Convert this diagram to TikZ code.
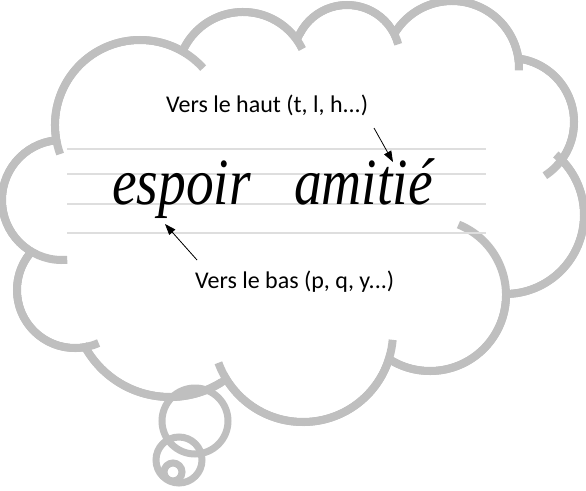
\documentclass[tikz,border=0pt]{standalone}
\usepackage{fontspec}
\usepackage{graphicx}
\usepackage{xcolor}
\usepackage{tikz}
\usetikzlibrary{arrows.meta}
\setmainfont{Liberation Serif}
\newfontfamily\notefont{Carlito}
\definecolor{cloudgray}{HTML}{BFBFBF}
\definecolor{rulegray}{HTML}{DEDEDE}

\begin{document}
\begin{tikzpicture}[
    x=1pt, y=-1pt,
    lobering/.style={draw=cloudgray, line width=16pt},
    lobefill/.style={fill=white},
    cloudline/.style={draw=cloudgray, line width=8pt},
    tail/.style={draw=cloudgray, line width=7pt},
    ruleline/.style={draw=rulegray, line width=1.8pt},
    note/.style={font=\notefont\fontsize{24}{28}\selectfont, inner sep=0pt, anchor=base west},
    word/.style={font=\itshape\fontsize{66}{70}\selectfont, inner sep=0pt, anchor=base west},
    arrow/.style={-{Triangle[length=11pt, width=8pt]}, line width=0.8pt}
]
    \useasboundingbox (0,0) rectangle (586,490);

    % cloud lobes: x / y / radius / arc from / arc to
    \def\lobes{140/125/85/160/318, 243/78/66/205/334, 347/58/53/207/345,
        452/68/67/211/362, 510/122/64/275/417, 505/215/79/310/451,
        430/295/76/292/482, 303/332/90/5/160, 170/300/97/58/153,
        75/290/58/66/222, 62/200/60/85/265}

    \foreach \cx/\cy/\r/\a/\b in \lobes
        \path[lobering] (\cx,\cy) circle[radius=\r-4];
    \foreach \cx/\cy/\r/\a/\b in \lobes
        \path[lobefill] (\cx,\cy) circle[radius=\r-4];
    \fill[white] (140,125) -- (243,78) -- (347,58) -- (452,68) -- (510,122) -- (505,215)
        -- (430,295) -- (303,332) -- (170,300) -- (75,290) -- (62,200) -- cycle;
    \foreach \cx/\cy/\r/\a/\b in \lobes
        \path[cloudline] (\cx,\cy) ++(\a:\r) arc[start angle=\a, end angle=\b, radius=\r];

    % small bubbles
    \draw[tail] (195,421) circle[radius=33];
    \draw[tail] (179,460) circle[radius=23];
    \draw[tail] (173,472) circle[radius=9];

    % ruled lines
    \foreach \y in {149,174,204,233}
        \draw[ruleline] (67,\y) -- (486,\y);

    \node[word] (espoir) at (112,204) {\scalebox{0.84}[1]{espoir}};
    \node[word] (amitie) at (294,204) {\scalebox{0.84}[1]{amitié}};

    \node[note] (haut) at (166,112) {Vers le haut (t, l, h...)};
    \node[note] (bas) at (195,288) {Vers le bas (p, q, y...)};

    \coordinate (hautA) at (374,128);
    \coordinate (hautB) at (393,162);
    \coordinate (basA) at (197,260);
    \coordinate (basB) at (165,224);

    \draw[arrow] (hautA) -- (hautB);
    \draw[arrow] (basA) -- (basB);
\end{tikzpicture}
\end{document}
